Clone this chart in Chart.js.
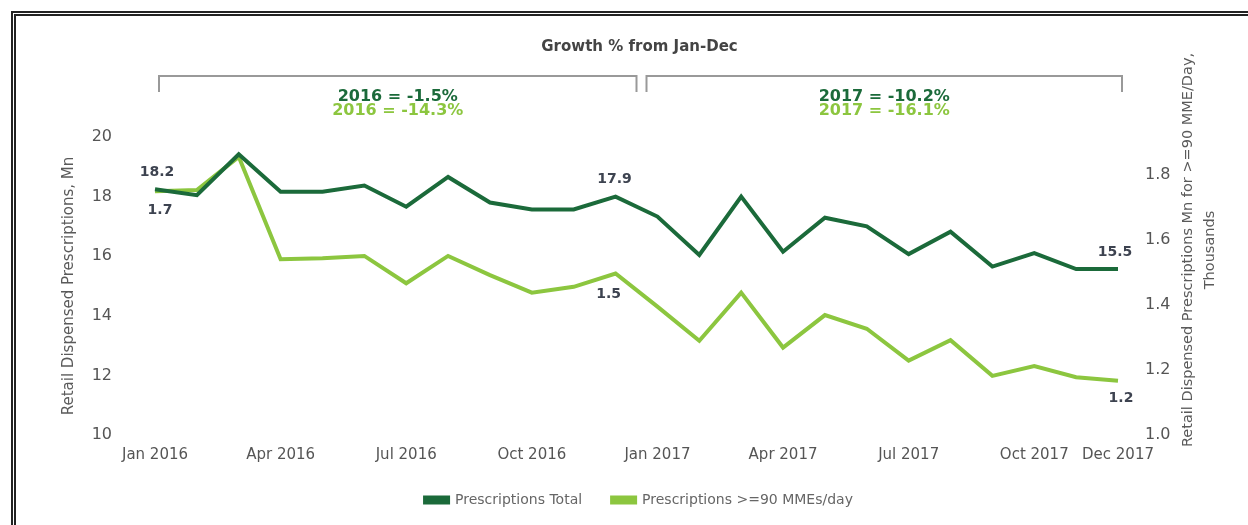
<!DOCTYPE html>
<html><head><meta charset="utf-8">
<script src="https://cdn.jsdelivr.net/npm/chart.js@4.4.1/dist/chart.umd.min.js"></script>
<style>
html,body{margin:0;padding:0;background:#fff;overflow:hidden;}
#wrap{position:relative;width:1248px;height:525px;}
canvas{position:absolute;left:0;top:0;}
#frame{position:absolute;left:11px;top:11px;width:1260px;height:540px;border-top:5px double #222;border-left:5px double #222;pointer-events:none;}
</style></head><body>
<div id="wrap"><canvas id="c" width="1248" height="525"></canvas><div id="frame"></div></div>
<script>
const months = ['Jan 2016','Feb 2016','Mar 2016','Apr 2016','May 2016','Jun 2016','Jul 2016','Aug 2016','Sep 2016','Oct 2016','Nov 2016','Dec 2016',
  'Jan 2017','Feb 2017','Mar 2017','Apr 2017','May 2017','Jun 2017','Jul 2017','Aug 2017','Sep 2017','Oct 2017','Nov 2017','Dec 2017'];
const tickLabels = ['Jan 2016','Apr 2016','Jul 2016','Oct 2016','Jan 2017','Apr 2017','Jul 2017','Oct 2017','Dec 2017'];
const totalRx = [18.25,18.05,19.42,18.16,18.16,18.37,17.66,18.66,17.8,17.57,17.57,18.0,17.33,16.04,18.0,16.15,17.29,17.0,16.07,16.82,15.65,16.1,15.57,15.57];
const highDoseRx = [1.75,1.754,1.856,1.541,1.544,1.551,1.467,1.551,1.492,1.438,1.456,1.497,1.395,1.29,1.438,1.269,1.369,1.327,1.229,1.292,1.182,1.212,1.178,1.167];
const seriesNames = ['Prescriptions Total','Prescriptions >=90 MMEs/day'];
const leftTicks = [10,12,14,16,18,20];
const rightTicks = [1.0,1.2,1.4,1.6,1.8];
const leftTitle = 'Retail Dispensed Prescriptions, Mn';
const rightTitle = ['Retail Dispensed Prescriptions Mn for >=90 MME/Day,','Thousands'];
const chartTitle = 'Growth % from Jan-Dec';
const growthGroups = [
  {from:0, to:11, lines:['2016 = -1.5%','2016 = -14.3%']},
  {from:12, to:23, lines:['2017 = -10.2%','2017 = -16.1%']}
];
const pointLabels = [
  {series:0, index:0, text:'18.2'},
  {series:1, index:0, text:'1.7'},
  {series:0, index:11, text:'17.9'},
  {series:1, index:11, text:'1.5'},
  {series:0, index:23, text:'15.5'},
  {series:1, index:23, text:'1.2'}
];

const DARK = '#1b6a3a', LIGHT = '#8cc63f';
const FONT = '"DejaVu Sans", sans-serif';
Chart.defaults.font.family = FONT;

const labelOffsets = [[2,-17],[5,19],[-1,-17],[-7,21],[-3,-17],[3,18]];

const annot = {
  id:'annot',
  afterDraw(chart){
    const {ctx, chartArea:ca, scales:{x}} = chart;
    ctx.save();
    ctx.textAlign='center'; ctx.textBaseline='middle';
    ctx.fillStyle='#444'; ctx.font='bold 15px '+FONT;
    ctx.fillText(chartTitle, (ca.left+ca.right)/2 + 3, 47);
    const mid = (x.getPixelForValue(11)+x.getPixelForValue(12))/2;
    growthGroups.forEach((g,gi)=>{
      const x1 = gi===0 ? x.getPixelForValue(g.from)+4 : mid+10;
      const x2 = gi===0 ? mid : x.getPixelForValue(g.to)+4;
      ctx.strokeStyle='#999'; ctx.lineWidth=2;
      ctx.beginPath(); ctx.moveTo(x1,92); ctx.lineTo(x1,76); ctx.lineTo(x2,76); ctx.lineTo(x2,92); ctx.stroke();
      const cx=(x1+x2)/2;
      ctx.font='bold 16px '+FONT;
      ctx.fillStyle=DARK; ctx.fillText(g.lines[0], cx, 97);
      ctx.fillStyle=LIGHT; ctx.fillText(g.lines[1], cx, 110.5);
    });
    const cy=(ca.top+ca.bottom)/2-36;
    ctx.fillStyle='#5a5a5a'; ctx.font='14.5px '+FONT;
    [[70,0],[92,1]].forEach(([dx,li])=>{
      ctx.save(); ctx.translate(ca.right+dx, cy); ctx.rotate(-Math.PI/2);
      ctx.fillText(rightTitle[li],0,0); ctx.restore();
    });
    ctx.font='bold 14px '+FONT; ctx.fillStyle='#3d4350';
    pointLabels.forEach((p,i)=>{
      const el = chart.getDatasetMeta(p.series).data[p.index];
      ctx.fillText(p.text, el.x+labelOffsets[i][0], el.y+labelOffsets[i][1]);
    });
    ctx.restore();
  }
};

new Chart(document.getElementById('c'), {
  type:'line',
  data:{
    labels: months,
    datasets:[
      {label:seriesNames[0], data:totalRx, yAxisID:'y', borderColor:DARK, backgroundColor:DARK, borderWidth:4, pointRadius:0, tension:0},
      {label:seriesNames[1], data:highDoseRx, yAxisID:'y1', borderColor:LIGHT, backgroundColor:LIGHT, borderWidth:4, pointRadius:0, tension:0}
    ]
  },
  options:{
    responsive:false, animation:false, devicePixelRatio:1,
    layout:{padding:{left:60, top:137, right:30, bottom:8}},
    plugins:{
      legend:{position:'bottom', labels:{font:{size:14}, color:'#666', boxWidth:23, boxHeight:5, padding:30}},
      tooltip:{enabled:false}
    },
    scales:{
      x:{
        grid:{display:false, drawTicks:false}, border:{display:false},
        ticks:{autoSkip:false, maxRotation:0, padding:11, color:'#555', font:{size:15},
          callback:function(v){const l=this.getLabelForValue(v); return tickLabels.includes(l)?l:'';}},
        afterFit(s){s.height=28;}
      },
      y:{
        position:'left', min:leftTicks[0], max:leftTicks[leftTicks.length-1],
        grid:{display:false, drawTicks:false}, border:{display:false},
        ticks:{stepSize:2, padding:43, color:'#555', font:{size:16}},
        title:{display:true, text:leftTitle, color:'#5a5a5a', font:{size:15}, padding:{top:0,bottom:0}},
        afterFit(s){s.width=95;}
      },
      y1:{
        position:'right', min:rightTicks[0], max:1.917,
        grid:{display:false, drawTicks:false}, border:{display:false},
        ticks:{stepSize:0.2, includeBounds:false, padding:27, color:'#555', font:{size:16}, callback:v=>v.toFixed(1)},
        afterFit(s){s.width=100;}
      }
    }
  },
  plugins:[annot]
});
</script>
</body></html>
